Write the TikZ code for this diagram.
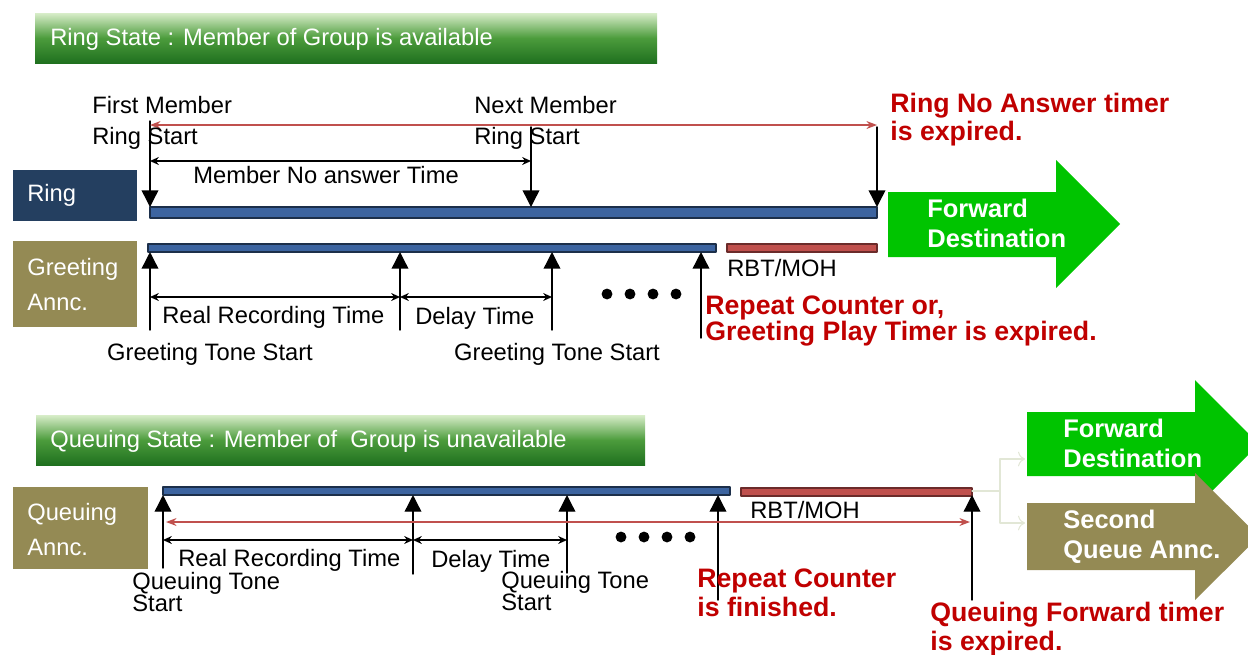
\documentclass[tikz,border=0pt]{standalone}
\usepackage{fontspec}
\setmainfont{Liberation Sans}
\usetikzlibrary{arrows.meta}

\definecolor{bannertop}{HTML}{D8EDC9}
\definecolor{bannermid}{HTML}{4C9C3C}
\definecolor{bannerbot}{HTML}{1F701F}
\definecolor{navybox}{HTML}{243F60}
\definecolor{olivebox}{HTML}{948A54}
\definecolor{barblue}{HTML}{3C64A0}
\definecolor{barblueedge}{HTML}{1C2F4A}
\definecolor{barred}{HTML}{C0504D}
\definecolor{barrededge}{HTML}{6B2B2A}
\definecolor{timerred}{HTML}{C0504D}
\definecolor{alertred}{HTML}{C00000}
\definecolor{fwdgreen}{HTML}{00C400}
\definecolor{paleline}{HTML}{E2E7D6}

\begin{document}
\begin{tikzpicture}[line cap=round,line join=round,x=0.02cm,y=-0.02cm,
	lbl/.style={anchor=west,inner sep=0pt,font=\fontsize{13.5}{15}\selectfont},
	redlbl/.style={anchor=west,inner sep=0pt,align=left,text=alertred,font=\fontsize{15.2}{16.4}\selectfont\bfseries},
	boxlbl/.style={anchor=west,inner sep=0pt,align=left,text=white,font=\fontsize{13.5}{19.8}\selectfont},
	arrowlbl/.style={anchor=west,inner sep=0pt,align=left,text=white,font=\fontsize{14.5}{17}\selectfont\bfseries},
	banner/.style={top color=bannertop,bottom color=bannerbot,middle color=bannermid},
	bluebar/.style={fill=barblue,draw=barblueedge,line width=0.6pt},
	redbar/.style={fill=barred,draw=barrededge,line width=0.6pt},
	tickarrow/.style={-{Triangle[width=9.5pt,length=9.5pt]},line width=0.8pt},
	spanarrow/.style={{Stealth[length=5pt,width=4.5pt]}-{Stealth[length=5pt,width=4.5pt]},line width=0.9pt},
	timer/.style={{Stealth[length=6pt,width=4.5pt]}-{Stealth[length=6pt,width=4.5pt]},line width=0.8pt,draw=timerred}]
	\useasboundingbox (0,0) rectangle (1248,654);
	\clip (0,0) rectangle (1248,654);
	% ring state
	\shade[banner] (35,13) rectangle (657,63);
	\node[lbl,text=white] (ringtitle) at (50,39) {Ring State : Member of Group is available};
	\fill[navybox] (13,170) rectangle (137,221);
	\node[boxlbl] (ringlbl) at (27,195) {Ring};
	\draw[bluebar] (150,207) rectangle (877,218);
	\foreach \n/\x/\y in {a/150/121,b/531/127,c/877/127}{
		\coordinate (ring\n) at (\x,207);
		\coordinate (ring\n top) at (\x,\y);
		\draw[tickarrow] (ring\n top) -- (ring\n);
	}
	\coordinate (natL) at (150,125);
	\coordinate (natR) at (877,125);
	\draw[timer] (natL) -- (natR);
	\coordinate (mnaL) at (150,161);
	\coordinate (mnaR) at (531,161);
	\draw[spanarrow] (mnaL) -- (mnaR);
	\node[lbl] (first1) at (92,105) {First Member};
	\node[lbl] (first2) at (92,138) {Ring Start};
	\node[lbl] (next1) at (474,105) {Next Member};
	\node[lbl] (next2) at (474,138) {Ring Start};
	\node[lbl] (mnatime) at (193,175) {Member No answer Time};
	\node[redlbl] (natexp) at (890,119.5) {Ring No Answer timer\\is expired.};
	% greeting
	\fill[olivebox] (13,241) rectangle (137,327);
	\node[boxlbl] (greetlbl) at (27,284.5) {Greeting\\Annc.};
	\draw[bluebar] (148,244) rectangle (716,252);
	\draw[redbar] (727,244) rectangle (877,252);
	\node[lbl] (rbt1) at (727,268) {RBT/MOH};
	\foreach \n/\x/\y in {a/150/330,b/400/330,c/552/330,d/701/338}{
		\coordinate (greet\n) at (\x,252);
		\coordinate (greet\n bot) at (\x,\y);
		\draw[tickarrow] (greet\n bot) -- (greet\n);
	}
	\coordinate (grA) at (150,297);
	\coordinate (grB) at (400,297);
	\coordinate (grC) at (552,297);
	\draw[spanarrow] (grA) -- (grB);
	\draw[spanarrow] (grB) -- (grC);
	\node[lbl] (greal) at (162,317) {Real Recording Time};
	\node[lbl] (gdelay) at (415,318) {Delay Time};
	\foreach \x in {607,630,653,676} \fill (\x,294) circle (3.1pt);
	\node[lbl,anchor=center] (gstart1) at (210,354) {Greeting Tone Start};
	\node[lbl,anchor=center] (gstart2) at (557,354) {Greeting Tone Start};
	\node[redlbl,font=\fontsize{15.2}{14.7}\selectfont\bfseries] (greetexp) at (705,321) {Repeat Counter or,\\Greeting Play Timer is expired.};
	% forward arrow of ring state
	\fill[fwdgreen] (888,192) -- (1056,192) -- (1056,160) -- (1120,224) -- (1056,288) -- (1056,257) -- (888,257) -- cycle;
	\node[arrowlbl] (fwd1) at (927,223) {Forward\\Destination};
	% queuing state
	\shade[banner] (36,415) rectangle (645,465);
	\node[lbl,text=white] (queuetitle) at (50,441) {Queuing State : Member of\ \ Group is unavailable};
	\fill[olivebox] (13,487) rectangle (148,569);
	\node[boxlbl] (queuelbl) at (27,529.5) {Queuing\\Annc.};
	\draw[bluebar] (163,487) rectangle (730,495);
	\draw[redbar] (741,488) rectangle (972,496);
	\node[lbl] (rbt2) at (750,510) {RBT/MOH};
	\foreach \n/\x/\y in {a/163/568,b/413/574,c/567/573,d/718/600,e/972/600}{
		\coordinate (queue\n) at (\x,495);
		\coordinate (queue\n bot) at (\x,\y);
		\draw[tickarrow] (queue\n bot) -- (queue\n);
	}
	\coordinate (qfL) at (166,522);
	\coordinate (qfR) at (970,522);
	\draw[timer] (qfL) -- (qfR);
	\coordinate (qrA) at (163,540);
	\coordinate (qrB) at (413,540);
	\coordinate (qrC) at (567,540);
	\draw[spanarrow] (qrA) -- (qrB);
	\draw[spanarrow] (qrB) -- (qrC);
	\node[lbl] (qreal) at (178,560) {Real Recording Time};
	\node[lbl] (qdelay) at (431,561) {Delay Time};
	\foreach \x in {621,644,667,690} \fill (\x,537) circle (3.1pt);
	\node[lbl,align=left,font=\fontsize{13.5}{12.5}\selectfont] (qstart1) at (132,592) {Queuing Tone\\Start};
	\node[lbl,align=left,font=\fontsize{13.5}{12.5}\selectfont] (qstart2) at (501,591) {Queuing Tone\\Start};
	\node[redlbl] (repexp) at (697,592.5) {Repeat Counter\\is finished.};
	\node[redlbl] (qfexp) at (930,629) {Queuing Forward timer\\is expired.};
	% outcomes of queuing state
	\fill[fwdgreen] (1027,412) -- (1195,412) -- (1195,380) -- (1259,444) -- (1195,508) -- (1195,476) -- (1027,476) -- cycle;
	\fill[olivebox] (1027,503) -- (1195,503) -- (1195,473) -- (1259,536.5) -- (1195,600) -- (1195,570) -- (1027,570) -- cycle;
	\node[arrowlbl] (fwd2) at (1063,443) {Forward\\Destination};
	\node[arrowlbl] (second) at (1063,537) {Second\\Queue Annc.};
	\coordinate (split) at (1000,491);
	\coordinate (toFwd) at (1025,459);
	\coordinate (toSecond) at (1025,523);
	\draw[paleline,line width=0.6pt] (queuee) ++(0,-4) -- (split);
	\draw[paleline,line width=0.6pt,-{To[length=4pt]}] (split) |- (toFwd);
	\draw[paleline,line width=0.6pt,-{To[length=4pt]}] (split) |- (toSecond);
\end{tikzpicture}
\end{document}
